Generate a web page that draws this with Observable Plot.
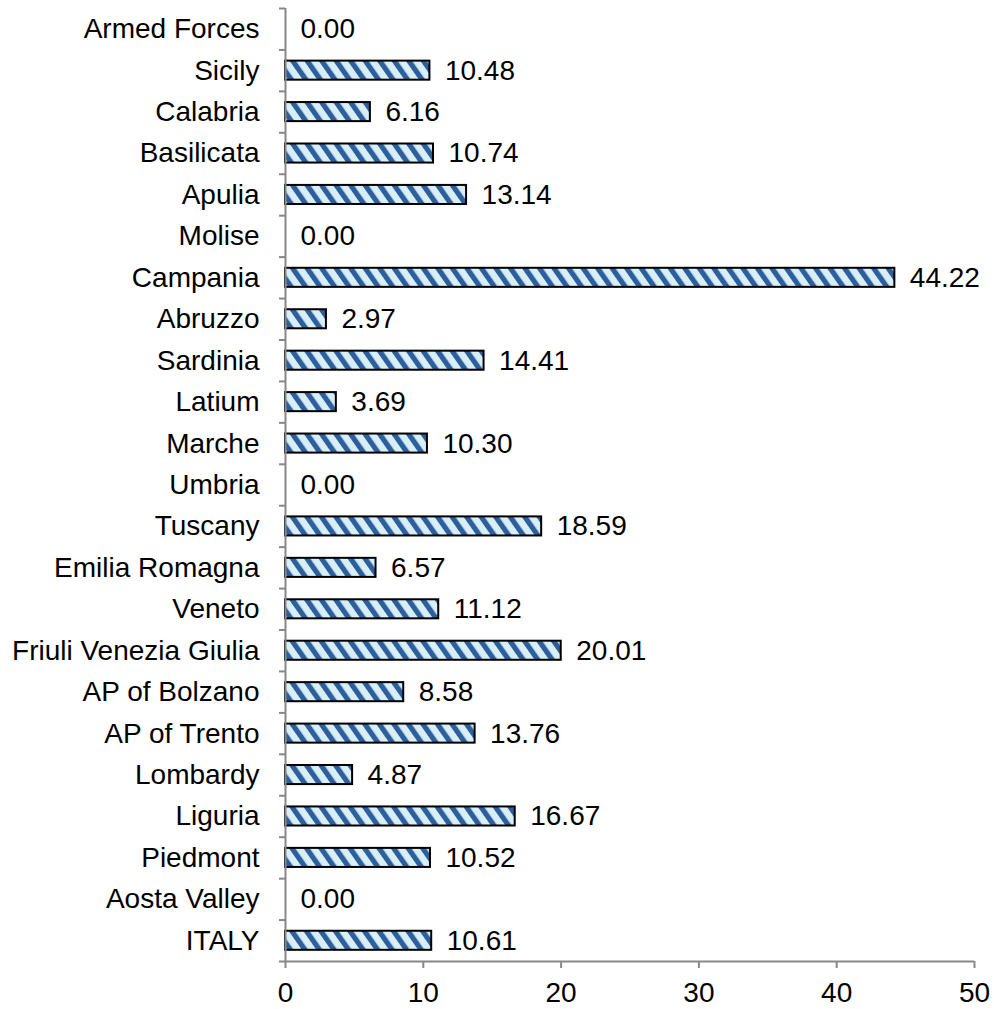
<!DOCTYPE html>
<html>
<head>
<meta charset="utf-8">
<script src="https://cdn.jsdelivr.net/npm/d3@7"></script>
<script src="https://cdn.jsdelivr.net/npm/@observablehq/plot@0.6"></script>
<style>
  html, body { margin: 0; padding: 0; background: #ffffff; }
</style>
</head>
<body>
<div id="chart"></div>
<script>
// Categories from bottom (ITALY) to top (Armed Forces)
const regions = [
  "ITALY", "Aosta Valley", "Piedmont", "Liguria", "Lombardy", "AP of Trento",
  "AP of Bolzano", "Friuli Venezia Giulia", "Veneto", "Emilia Romagna", "Tuscany",
  "Umbria", "Marche", "Latium", "Sardinia", "Abruzzo", "Campania", "Molise",
  "Apulia", "Basilicata", "Calabria", "Sicily", "Armed Forces"
];
const values = [
  10.61, 0.00, 10.52, 16.67, 4.87, 13.76,
  8.58, 20.01, 11.12, 6.57, 18.59,
  0.00, 10.30, 3.69, 14.41, 2.97, 44.22, 0.00,
  13.14, 10.74, 6.16, 10.48, 0.00
];
const xTicks = [0, 10, 20, 30, 40, 50];

const data = regions.map((r, i) => ({region: r, idx: i, value: values[i]}));
const half = 0.23;
const gray = "#888888";

const chart = Plot.plot({
  width: 994,
  height: 1009,
  marginLeft: 285,
  marginRight: 20,
  marginTop: 8,
  marginBottom: 48,
  style: {fontFamily: "'Liberation Sans', Arial, sans-serif", fontSize: "28px", background: "#ffffff", color: "#000000"},
  x: {domain: [0, 50]},
  y: {domain: [-0.5, regions.length - 0.5]},
  marks: [
    Plot.rect(data, {
      x1: 0, x2: "value",
      y1: d => d.idx - half, y2: d => d.idx + half,
      fill: "url(#hatch)", stroke: "#000000", strokeWidth: 2
    }),
    Plot.ruleX([0], {stroke: gray, strokeWidth: 2}),
    Plot.ruleY([-0.5], {stroke: gray, strokeWidth: 2}),
    Plot.axisX({ticks: xTicks, tickSize: 7, tickPadding: 14, stroke: gray, strokeWidth: 2, label: null, fontSize: 28, fill: "#000000"}),
    Plot.axisY({ticks: d3.range(0, regions.length), tickFormat: i => regions[i], tickSize: 0, tickPadding: 26, label: null, fontSize: 28, fill: "#000000"}),
    Plot.axisY({ticks: d3.range(-0.5, regions.length, 1), tickFormat: () => "", tickSize: 6, stroke: gray, strokeWidth: 2, label: null}),
    Plot.text(data, {
      x: "value", y: "idx", text: d => d3.format(".2f")(d.value),
      dx: 15, textAnchor: "start", fontSize: 28, fill: "#000000"
    })
  ]
});

// hatch pattern definition (downward diagonal stripes)
const period = 11.9;
const svg = d3.select(chart);
const defs = svg.insert("defs", ":first-child");
const pat = defs.append("pattern")
  .attr("id", "hatch")
  .attr("patternUnits", "userSpaceOnUse")
  .attr("width", period)
  .attr("height", period)
  .attr("patternTransform", "rotate(-35)");
pat.append("rect").attr("width", period).attr("height", period).attr("fill", "#d8eef8");
pat.append("rect").attr("width", 5.2).attr("height", period).attr("fill", "#2d5f9c");

document.getElementById("chart").appendChild(chart);
</script>
</body>
</html>
